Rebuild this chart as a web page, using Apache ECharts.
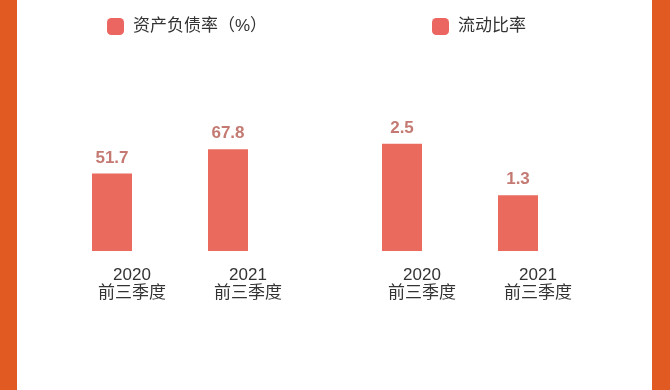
<!DOCTYPE html>
<html>
<head>
<meta charset="utf-8">
<script src="https://cdn.jsdelivr.net/npm/echarts@6/dist/echarts.min.js"></script>
<style>
html,body{margin:0;padding:0;background:#fff;}
#c{width:670px;height:390px;}
</style>
</head>
<body>
<div id="c"></div>
<script>
const categories = ['2020\n前三季度', '2021\n前三季度'];
const debtRatioName = '资产负债率（%）';
const debtRatio = [51.7, 67.8];
const currentRatioName = '流动比率';
const currentRatio = [2.5, 1.3];

const FONT = '"Liberation Sans", "Noto Sans CJK SC", sans-serif';
const BAR = '#EA6A5E';
const LABEL = '#C47A72';

const chart = echarts.init(document.getElementById('c'), null, {renderer: 'canvas'});

function xAxis(gi) {
  return {
    type: 'category', gridIndex: gi, data: categories,
    axisLine: {show: false}, axisTick: {show: false},
    axisLabel: {
      margin: 15, color: '#333', fontSize: 17, lineHeight: 18,
      fontFamily: FONT, padding: [0, 0, 0, 40], interval: 0
    }
  };
}
function yAxis(gi, max) {
  return {type: 'value', gridIndex: gi, min: 0, max: max, show: false, splitLine: {show: false}};
}
function series(name, data, gi) {
  return {
    name: name, type: 'bar', xAxisIndex: gi, yAxisIndex: gi, data: data,
    barWidth: 40, itemStyle: {color: BAR},
    label: {show: true, position: 'top', distance: 7, color: LABEL, fontSize: 17,
            fontWeight: 'bold', fontFamily: FONT}
  };
}

chart.setOption({
  animation: false,
  backgroundColor: '#fff',
  graphic: [
    {type: 'rect', left: 0, top: 0, shape: {width: 17, height: 390}, style: {fill: '#E05A22'}},
    {type: 'rect', left: 652, top: 0, shape: {width: 18, height: 390}, style: {fill: '#E05A22'}}
  ],
  legend: [
    {data: [debtRatioName], left: 102, top: 13, itemWidth: 17, itemHeight: 17, icon: 'roundRect',
     itemStyle: {color: '#EC6661'},
     textStyle: {fontSize: 17, color: '#333', fontFamily: FONT, padding: [0, 0, 0, 4]}},
    {data: [currentRatioName], left: 427, top: 13, itemWidth: 17, itemHeight: 17, icon: 'roundRect',
     itemStyle: {color: '#EC6661'},
     textStyle: {fontSize: 17, color: '#333', fontFamily: FONT, padding: [0, 0, 0, 4]}}
  ],
  grid: [
    {left: 54, width: 232, top: 101, height: 150},
    {left: 344, width: 232, top: 101, height: 150}
  ],
  xAxis: [xAxis(0), xAxis(1)],
  yAxis: [yAxis(0, 100), yAxis(1, 3.5)],
  series: [series(debtRatioName, debtRatio, 0), series(currentRatioName, currentRatio, 1)]
});
</script>
</body>
</html>
